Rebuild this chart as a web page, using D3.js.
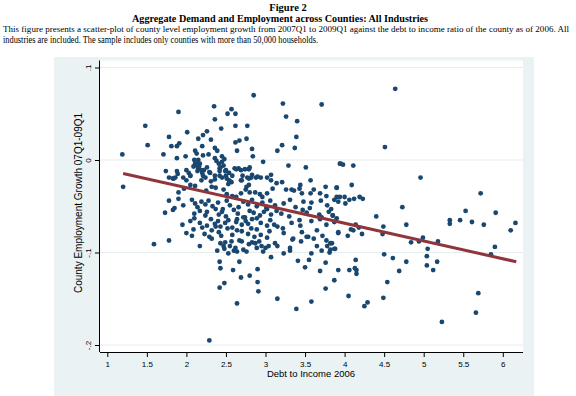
<!DOCTYPE html>
<html>
<head>
<meta charset="utf-8">
<script src="https://cdn.jsdelivr.net/npm/d3@7"></script>
<style>
  body { margin: 0; background: #fff; }
  svg { display: block; }
</style>
</head>
<body>
<div id="chart"></div>
<script>
// debt to income 2006 (x) and employment growth 07Q1-09Q1 (y)
var debtIncome = [
  1.78,1.85,1.96,2.07,2.11,2.14,2.19,2.24,2.28,2.33,2.40,2.46,2.51,2.55,2.66,2.72,2.78,2.83,2.89,2.96,3.01,3.06,3.12,3.23,3.31,3.38,3.48,3.56,3.58,3.70,3.78,3.83,3.92,
  1.73,1.83,2.10,2.17,2.24,2.26,2.37,2.41,2.45,2.50,2.60,2.65,2.74,2.80,2.85,2.93,2.98,3.02,3.07,3.14,3.20,3.30,3.47,3.52,3.68,3.71,3.80,3.85,
  2.05,1.95,2.10,2.17,2.26,2.31,2.36,2.40,2.43,2.49,2.53,2.58,2.63,2.64,2.70,2.72,2.75,2.78,2.83,2.89,2.94,3.02,3.06,3.11,3.15,3.22,3.33,3.43,3.44,3.58,3.69,3.77,3.87,3.90,
  2.00,2.09,2.20,2.23,2.32,2.37,2.41,2.44,2.52,2.58,2.64,2.70,2.78,2.82,2.86,2.89,2.94,3.02,3.05,3.23,3.34,3.46,3.54,3.61,3.65,3.72,3.77,3.92,
  1.59,1.78,2.07,2.17,2.29,2.32,2.39,2.43,2.47,2.49,2.55,2.57,2.62,2.67,2.70,2.72,2.79,2.83,2.87,2.92,2.95,3.00,3.04,3.12,3.15,3.31,3.35,3.45,3.52,3.58,3.65,3.71,3.78,3.81,3.84,3.88,
  2.42,2.43,2.48,2.53,2.59,2.60,2.64,2.67,2.76,2.89,2.97,3.07,3.23,3.31,3.41,3.50,3.55,3.69,3.76,3.92,
  2.42,2.48,2.69,2.80,2.90,2.90,2.91,3.15,2.64,3.39,3.58,3.76,3.87,2.29,
  1.19,1.20,1.48,1.51,1.71,1.74,1.78,1.81,1.88,1.91,1.90,1.88,1.99,1.88,1.78,1.83,1.86,1.90,1.90,1.97,
  2.01,2.00,2.05,2.05,2.09,2.10,2.11,2.13,2.11,2.13,2.15,2.14,2.11,2.15,2.21,2.26,2.20,2.21,2.28,2.22,2.26,2.30,2.25,2.32,2.31,
  2.35,2.36,2.36,2.39,2.36,2.38,2.41,2.43,2.42,2.45,2.36,2.37,2.44,2.47,2.45,2.48,2.50,2.50,2.51,2.52,2.62,2.57,2.54,2.57,2.58,
  2.61,2.62,2.62,2.64,2.66,2.67,2.63,2.69,2.70,2.74,2.75,2.76,2.77,2.77,2.76,2.80,2.80,2.82,2.83,2.84,2.85,2.87,2.88,2.93,2.94,
  2.96,2.97,3.02,3.02,3.07,3.07,3.09,3.14,3.15,3.21,3.22,3.21,3.26,3.26,3.29,3.33,3.36,3.37,3.39,3.40,3.44,3.43,3.46,3.51,3.57,
  3.61,3.57,3.69,3.71,3.76,3.77,3.90,3.90,3.94,
  4.64,4.51,3.95,3.98,4.11,4.96,3.90,4.09,3.87,3.94,4.00,4.06,4.12,4.19,4.23,4.01,4.73,5.72,
  3.85,3.82,3.82,3.87,3.92,4.04,4.08,4.11,4.14,4.18,4.22,4.40,4.49,4.48,4.78,4.84,4.94,4.99,5.05,5.18,5.33,5.33,5.46,5.53,5.61,
  5.76,5.91,6.10,6.16,5.90,5.85,4.50,4.61,4.78,5.04,5.04,5.17,5.12,4.69,4.06,4.13,4.15,4.15,4.14,4.05,4.25,4.29,4.49,4.54,5.23,5.69,5.66,
  2.45,2.47,2.42,2.49,2.54,2.58,2.51,2.55,2.53,2.63,2.69,2.79,2.71,2.79,2.83,2.69,2.79,2.90,
  2.15,2.13,2.17,2.16,2.19,2.20,2.21,2.24,2.03,1.96,2.00,2.05,1.89,1.84,2.29,2.31,2.19,2.36,2.42
];
var empGrowth = [
  -0.044,-0.052,-0.049,-0.043,-0.047,-0.051,-0.045,-0.048,-0.044,-0.050,-0.046,-0.053,-0.044,-0.049,-0.051,-0.045,-0.048,-0.043,-0.050,-0.046,-0.052,-0.044,-0.049,-0.047,-0.043,-0.051,-0.045,-0.052,-0.046,-0.044,-0.049,-0.053,-0.045,
  -0.057,-0.054,-0.058,-0.055,-0.060,-0.056,-0.053,-0.059,-0.056,-0.061,-0.054,-0.058,-0.062,-0.055,-0.057,-0.060,-0.056,-0.053,-0.059,-0.055,-0.058,-0.061,-0.054,-0.057,-0.059,-0.062,-0.056,-0.060,
  -0.066,-0.070,-0.063,-0.068,-0.071,-0.064,-0.069,-0.066,-0.072,-0.068,-0.065,-0.073,-0.067,-0.064,-0.070,-0.062,-0.066,-0.069,-0.064,-0.063,-0.068,-0.071,-0.065,-0.070,-0.072,-0.074,-0.068,-0.065,-0.071,-0.066,-0.064,-0.070,-0.067,-0.063,
  -0.079,-0.075,-0.073,-0.080,-0.076,-0.072,-0.078,-0.082,-0.074,-0.081,-0.076,-0.077,-0.080,-0.074,-0.083,-0.075,-0.081,-0.084,-0.077,-0.079,-0.086,-0.078,-0.083,-0.085,-0.076,-0.082,-0.087,-0.079,
  -0.091,-0.087,-0.082,-0.093,-0.083,-0.085,-0.098,-0.090,-0.093,-0.089,-0.093,-0.088,-0.095,-0.087,-0.088,-0.097,-0.091,-0.089,-0.090,-0.088,-0.093,-0.095,-0.093,-0.090,-0.093,-0.095,-0.085,-0.088,-0.083,-0.101,-0.093,-0.098,-0.093,-0.100,-0.090,-0.096,
  -0.110,-0.117,-0.096,-0.101,-0.119,-0.098,-0.099,-0.110,-0.099,-0.095,-0.099,-0.105,-0.101,-0.098,-0.109,-0.116,-0.108,-0.120,-0.111,-0.119,
  -0.138,-0.133,-0.127,-0.125,-0.132,-0.118,-0.142,-0.150,-0.155,-0.161,-0.153,-0.139,-0.130,-0.195,
  0.006,-0.029,0.037,0.016,0.006,-0.012,0.025,0.015,0.015,0.018,0.052,0.002,0.004,-0.012,-0.019,-0.020,-0.019,-0.035,-0.042,-0.031,
  0.030,-0.011,-0.027,-0.017,-0.007,0.000,0.010,0.007,-0.004,-0.006,-0.009,-0.012,-0.028,0.023,0.027,0.031,0.015,0.005,0.006,-0.011,-0.008,-0.014,-0.033,-0.029,0.022,
  0.058,0.044,0.013,0.010,0.002,-0.001,-0.004,-0.008,-0.017,-0.019,-0.021,-0.030,0.034,-0.032,0.004,0.001,-0.011,-0.017,-0.037,0.050,0.050,0.055,-0.022,-0.024,-0.039,
  -0.009,0.037,0.019,0.010,-0.009,0.021,-0.040,-0.036,-0.022,-0.010,-0.032,0.023,0.037,-0.019,-0.029,-0.008,-0.035,-0.019,0.012,0.004,0.070,-0.035,-0.019,-0.037,-0.019,
  -0.040,-0.002,-0.019,-0.036,-0.016,-0.022,-0.031,-0.025,0.010,0.016,0.061,-0.024,-0.032,0.047,-0.006,-0.032,-0.033,0.013,0.025,0.042,-0.027,-0.031,-0.036,-0.008,-0.022,
  -0.032,-0.036,-0.036,0.060,-0.029,-0.039,-0.030,-0.040,-0.004,
  0.077,0.014,-0.004,-0.005,-0.006,-0.019,-0.030,-0.027,-0.043,-0.040,-0.040,-0.043,-0.042,-0.040,-0.042,-0.047,-0.051,-0.036,
  -0.060,-0.090,-0.097,-0.096,-0.078,-0.082,-0.075,-0.076,-0.070,-0.073,-0.080,-0.061,-0.072,-0.080,-0.070,-0.089,-0.088,-0.084,-0.096,-0.088,-0.065,-0.069,-0.065,-0.055,-0.067,
  -0.070,-0.057,-0.076,-0.068,-0.094,-0.102,-0.102,-0.106,-0.110,-0.104,-0.114,-0.110,-0.119,-0.120,-0.119,-0.117,-0.119,-0.123,-0.108,-0.147,-0.158,-0.154,-0.149,-0.132,-0.175,-0.144,-0.165,
  -0.002,-0.006,-0.009,-0.012,-0.014,-0.017,-0.020,-0.023,-0.026,-0.010,-0.011,-0.010,-0.017,-0.020,-0.016,-0.022,-0.027,-0.018,
  0.000,-0.004,-0.004,-0.007,-0.011,-0.014,-0.017,-0.019,-0.014,-0.019,-0.022,-0.017,-0.015,-0.020,-0.013,-0.023,-0.022,-0.017,-0.012
];

// fitted line end points
var fitX = [1.2, 6.17];
var fitY = [-0.0146, -0.110];

var xTicks = [1, 1.5, 2, 2.5, 3, 3.5, 4, 4.5, 5, 5.5, 6];
var xTickLabels = ['1', '1.5', '2', '2.5', '3', '3.5', '4', '4.5', '5', '5.5', '6'];
var yTicks = [0.1, 0, -0.1, -0.2];
var yTickLabels = ['.1', '0', '-.1', '-.2'];

var w = 576, h = 396;
var svg = d3.select('#chart').append('svg').attr('width', w).attr('height', h);

var serif = '"Liberation Serif", "Times New Roman", serif';
var sans = '"Liberation Sans", Arial, sans-serif';

// heading text
svg.append('text').attr('x', 288).attr('y', 11).attr('text-anchor', 'middle')
  .style('font-family', serif).style('font-weight', 'bold').style('font-size', '10.5px')
  .text('Figure 2');
svg.append('text').attr('x', 280).attr('y', 21.5).attr('text-anchor', 'middle')
  .attr('textLength', 296).attr('lengthAdjust', 'spacingAndGlyphs')
  .style('font-family', serif).style('font-weight', 'bold').style('font-size', '10.5px')
  .text('Aggregate Demand and Employment across Counties: All Industries');
svg.append('text').attr('x', 3).attr('y', 31.5)
  .attr('textLength', 566).attr('lengthAdjust', 'spacingAndGlyphs')
  .style('font-family', serif).style('font-size', '8.9px')
  .text('This figure presents a scatter-plot of county level employment growth from 2007Q1 to 2009Q1 against the debt to income ratio of the county as of 2006. All');
svg.append('text').attr('x', 3).attr('y', 42.5)
  .attr('textLength', 315).attr('lengthAdjust', 'spacingAndGlyphs')
  .style('font-family', serif).style('font-size', '9.3px')
  .text('industries are included. The sample includes only counties with more than 50,000 households.');

// graph region and plot region
svg.append('rect').attr('x', 54).attr('y', 57).attr('width', 480).attr('height', 339).attr('fill', '#eaf2f3');
var pl = 100, pr = 523, pt = 60.5, pb = 352;
svg.append('rect').attr('x', pl).attr('y', pt).attr('width', pr - pl).attr('height', pb - pt).attr('fill', '#fff');

var x = d3.scaleLinear().domain([1, 6]).range([107.3, 502.8]);
var y = d3.scaleLinear().domain([-0.2, 0.1]).range([345, 67.5]);

// grid
svg.append('g').selectAll('line').data(yTicks).join('line')
  .attr('x1', pl).attr('x2', pr)
  .attr('y1', function(d){ return y(d) }).attr('y2', function(d){ return y(d) })
  .attr('stroke', '#e6edef').attr('stroke-width', 1);

// axes
var xAxis = d3.axisBottom(x).tickValues(xTicks).tickSize(5).tickPadding(4)
  .tickFormat(function(d, i){ return xTickLabels[i] });
var gx = svg.append('g').attr('transform', 'translate(0,' + pb + ')').call(xAxis);
gx.select('.domain').attr('d', 'M' + pl + ',0.5H' + pr).attr('stroke', '#000');
gx.selectAll('text').style('font-family', sans).style('font-size', '8px').attr('fill', '#000');

var yAxis = d3.axisLeft(y).tickValues(yTicks).tickSize(5).tickPadding(2)
  .tickFormat(function(d, i){ return yTickLabels[i] });
var gy = svg.append('g').attr('transform', 'translate(' + pl + ',0)').call(yAxis);
gy.select('.domain').attr('d', 'M-0.5,' + pt + 'V' + pb).attr('stroke', '#000');
gy.selectAll('text').style('font-family', sans).style('font-size', '8px').attr('fill', '#000')
  .attr('text-anchor', 'middle').attr('dy', null).attr('x', 0)
  .attr('transform', 'translate(-9.5,0) rotate(-90)');

svg.append('text').attr('x', 311).attr('y', 377).attr('text-anchor', 'middle')
  .style('font-family', sans).style('font-size', '9.5px').text('Debt to Income 2006');
svg.append('text').attr('transform', 'translate(81.5,203) rotate(-90)').attr('text-anchor', 'middle')
  .style('font-family', sans).style('font-size', '10px').text('County Employment Growth 07Q1-09Q1');

// points
var pts = debtIncome.map(function(d, i){ return [d, empGrowth[i]] });
svg.append('g').selectAll('circle').data(pts).join('circle')
  .attr('cx', function(d){ return x(d[0]) }).attr('cy', function(d){ return y(d[1]) })
  .attr('r', 2.4).attr('fill', '#1a476f');

// fitted line
svg.append('path').datum(d3.zip(fitX, fitY))
  .attr('d', d3.line().x(function(d){ return x(d[0]) }).y(function(d){ return y(d[1]) }))
  .attr('stroke', '#90353b').attr('stroke-width', 3).attr('fill', 'none');
</script>
</body>
</html>
